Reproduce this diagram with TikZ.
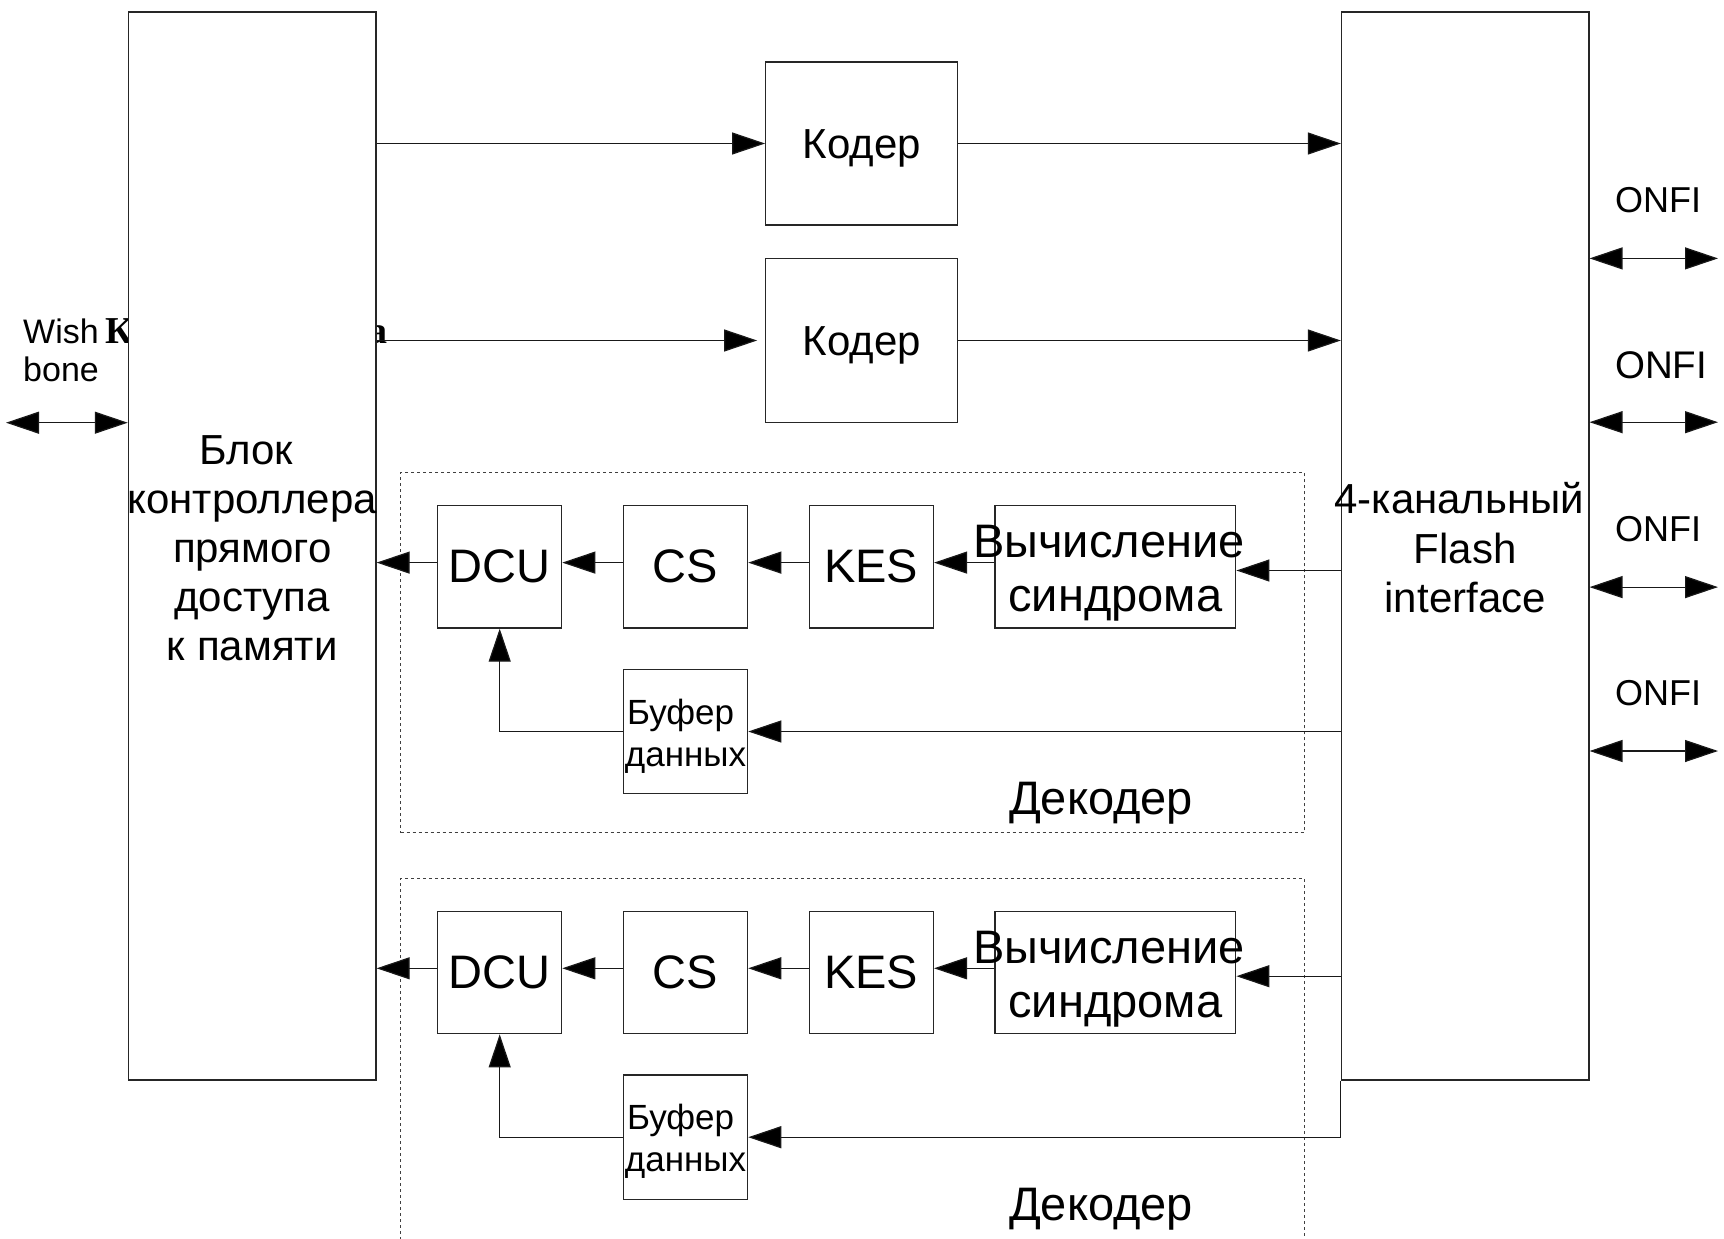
\documentclass[tikz,border=0pt]{standalone}
\usepackage{fontspec}
\setmainfont{Liberation Sans}
\newfontfamily\hidserif{Liberation Serif}
\usetikzlibrary{arrows.meta,calc}
\newcommand\tsp{\hspace*{0.278em}}
\begin{document}
\begin{tikzpicture}[x=1pt,y=-1pt,
  box/.style={draw=black!85, line width=1.2pt, fill=white, inner sep=0pt},
  arr/.style={draw=black!90, line width=1.2pt, -{Triangle[length=33pt,width=22pt,fill=black]}},
  dbl/.style={draw=black!90, line width=1.2pt, {Triangle[length=33pt,width=22pt,fill=black]}-{Triangle[length=33pt,width=22pt,fill=black]}},
  decbox/.style={draw=black!75, line width=1pt, dash pattern=on 3pt off 3pt, inner sep=0pt},
  txt/.style={inner sep=0pt, align=center}
]
\useasboundingbox[fill=white] (0,0) rectangle (1724,1239);

% decoder frames
\node[decbox, minimum width=903.6pt, minimum height=360.2pt] (dk1) at (852.5,652.6) {};
\node[decbox, minimum width=903.6pt, minimum height=420pt] (dk2) at (852.5,1088.2) {};

% hidden text behind the left block
\node[anchor=base west, inner sep=0pt, font=\hidserif\bfseries\fontsize{38}{42}\selectfont] (hid) at (105,343) {\makebox[282pt][s]{Канал шина}};

% main blocks
\node[box, minimum width=247.7pt, minimum height=1068pt] (lb) at (252.2,546) {};
\node[box, minimum width=247.5pt, minimum height=1068pt] (rb) at (1465.2,546) {};
\node[txt, font=\fontsize{42}{49}\selectfont] (lbt) at (252.2,548) {Блок\tsp\\контроллера\tsp\\прямого\tsp\\доступа\tsp\\к памяти};
\node[txt, font=\fontsize{42}{49.5}\selectfont] (rbt) at (1465.2,548) {4-канальный\tsp\\Flash\\interface};

% coders
\node[box, minimum width=192pt, minimum height=163pt, text height=30pt, text depth=0pt, font=\fontsize{42}{48}\selectfont] (c1) at (861.7,143.5) {Кодер};
\node[box, minimum width=192pt, minimum height=163.5pt, text height=30pt, text depth=0pt, font=\fontsize{42}{48}\selectfont] (c2) at (861.7,340.5) {Кодер};
\draw[arr] (lb.east |- c1.west) -- (c1.west);
\draw[arr] (c1.east) -- (c1.east -| rb.west);
\draw[arr, shorten >=8pt] (lb.east |- c2.west) -- (c2.west);
\draw[arr] (c2.east) -- (c2.east -| rb.west);

% decoders
\foreach \i/\d in {1/0,2/405.7} {
  \node[box, minimum width=124pt, minimum height=122.5pt, font=\fontsize{47}{52}\selectfont] (dcu\i) at (499.7,566.8+\d) {DCU};
  \node[box, minimum width=124.3pt, minimum height=122.5pt, font=\fontsize{47}{52}\selectfont] (cs\i) at (685.5,566.8+\d) {CS};
  \node[box, minimum width=124.3pt, minimum height=122.5pt, font=\fontsize{47}{52}\selectfont] (kes\i) at (871.3,566.8+\d) {KES};
  \node[box, minimum width=240.8pt, minimum height=122.5pt] (vyc\i) at (1115.4,566.8+\d) {};
  \node[txt, font=\fontsize{47}{54}\selectfont] (vyct\i) at (1115.4,573+\d) {Вычисление\tsp\\синдрома};
  \node[box, minimum width=124.3pt, minimum height=124.3pt] (buf\i) at (685.5,731.5+\d) {};
  \node[txt, font=\fontsize{35}{42}\selectfont] (buft\i) at (685.5,736+\d) {Буфер\tsp\\данных};
  \node[anchor=base, inner sep=0pt, font=\fontsize{47}{50}\selectfont] (dkt\i) at (1101,814.5+\d) {Декодер};
  \draw[arr] ([yshift=-3.7pt]vyc\i.east -| rb.west) -- ([yshift=-3.7pt]vyc\i.east);
  \draw[arr] ([yshift=4.2pt]vyc\i.west) -- ([yshift=4.2pt]kes\i.east);
  \draw[arr] ([yshift=4.2pt]kes\i.west) -- ([yshift=4.2pt]cs\i.east);
  \draw[arr] ([yshift=4.2pt]cs\i.west) -- ([yshift=4.2pt]dcu\i.east);
  \draw[arr] ([yshift=4.2pt]dcu\i.west) -- ([yshift=4.2pt]dcu\i.west -| lb.east);
  \draw[arr] (buf\i.west) -| (dcu\i.south);
}
\draw[arr] (buf1.east -| rb.west) -- (buf1.east);
\draw[arr] (rb.south west) |- (buf2.east);

% ONFI ports
\foreach \k/\y/\ly/\s in {1/258.4/200/36, 2/422.2/365/38.5, 3/587.1/529/36, 4/751/693/36} {
  \coordinate (oe\k) at (1718,\y);
  \draw[dbl] (rb.east |- oe\k) -- (oe\k);
  \node[anchor=west, inner sep=0pt, font=\fontsize{\s}{\s}\selectfont] (on\k) at (1615,\ly) {ONFI};
}

% Wishbone
\coordinate (wbe) at (6,422.7);
\draw[dbl] (wbe) -- (wbe -| lb.west);
\node[anchor=west, align=left, inner sep=0pt, font=\fontsize{34}{38}\selectfont] (wb) at (23,350) {Wish\\bone};
\end{tikzpicture}
\end{document}
